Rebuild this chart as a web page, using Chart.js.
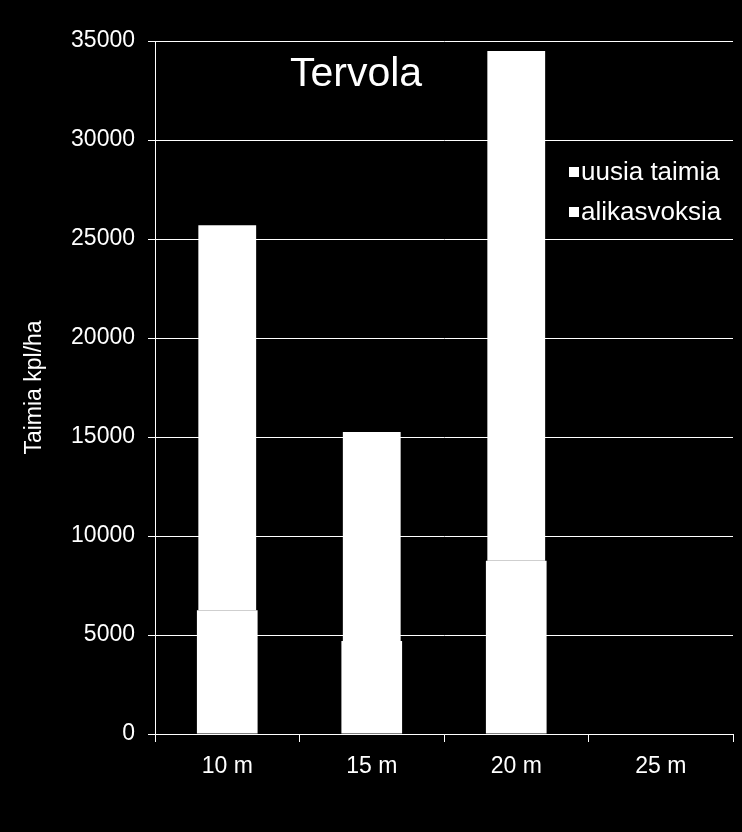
<!DOCTYPE html>
<html>
<head>
<meta charset="utf-8">
<script src="https://cdn.jsdelivr.net/npm/chart.js@4.4.0/dist/chart.umd.min.js"></script>
<style>
  html, body { margin: 0; padding: 0; background: #000; }
  #wrap { width: 742px; height: 832px; }
</style>
</head>
<body>
<div id="wrap"><canvas id="c" width="742" height="832"></canvas></div>
<script>
// Data
const categories = ['10 m', '15 m', '20 m', '25 m'];
const alikasvoksia = [6250, 4700, 8750, 0];
const uusiaTaimia = [19450, 10550, 25750, 0];
const yTicks = [0, 5000, 10000, 15000, 20000, 25000, 30000, 35000];

const FONT = 'Liberation Sans, Arial, sans-serif';

// title + legend drawn inside the plot area
const insidePlugin = {
    id: 'inside',
    afterDraw(chart) {
        const ctx = chart.ctx;
        const a = chart.chartArea;
        ctx.save();
        ctx.fillStyle = '#fff';
        ctx.font = '41px ' + FONT;
        ctx.textBaseline = 'alphabetic';
        ctx.textAlign = 'left';
        ctx.fillText('Tervola', a.left + 135, a.top + 45);

        // legend, top series first like the original
        ctx.font = '26px ' + FONT;
        ctx.textBaseline = 'middle';
        const items = chart.data.datasets.slice().reverse();
        items.forEach((ds, i) => {
            const y = a.top + 131 + i * 40;
            ctx.fillStyle = ds.backgroundColor;
            ctx.fillRect(a.left + 414, y - 5, 10, 10);
            ctx.fillStyle = '#fff';
            ctx.fillText(ds.label, a.left + 426, y + 1);
        });
        ctx.restore();
    }
};

new Chart(document.getElementById('c').getContext('2d'), {
    type: 'bar',
    data: {
        labels: categories,
        datasets: [
            { label: 'alikasvoksia', data: alikasvoksia, backgroundColor: '#ffffff', borderWidth: 0, barPercentage: 0.42, categoryPercentage: 1 },
            { label: 'uusia taimia', data: uusiaTaimia, backgroundColor: '#ffffff', borderWidth: 0, barPercentage: 0.40, categoryPercentage: 1 }
        ]
    },
    options: {
        responsive: false,
        animation: false,
        layout: { padding: { left: 0, top: 41, right: 9, bottom: 0 } },
        plugins: { legend: { display: false }, tooltip: { enabled: false } },
        scales: {
            x: {
                stacked: true,
                afterFit: s => { s.height = 98; },
                grid: { display: true, offset: true, drawOnChartArea: false, color: '#fff', tickLength: 8, lineWidth: 1 },
                border: { color: '#fff', width: 1 },
                ticks: { color: '#fff', font: { family: FONT, size: 23 }, padding: 11 }
            },
            y: {
                stacked: true,
                min: 0,
                max: 35000,
                afterFit: s => { s.width = 155; },
                afterBuildTicks: s => { s.ticks = yTicks.map(v => ({ value: v })); },
                grid: { color: '#fff', tickLength: 7, lineWidth: 1 },
                border: { color: '#fff', width: 1 },
                ticks: { color: '#fff', font: { family: FONT, size: 23 }, padding: 13, callback: v => String(v) },
                title: { display: true, text: 'Taimia kpl/ha', color: '#fff', font: { family: FONT, size: 23 }, padding: { top: 21, bottom: 0 } }
            }
        }
    },
    plugins: [insidePlugin]
});
</script>
</body>
</html>
